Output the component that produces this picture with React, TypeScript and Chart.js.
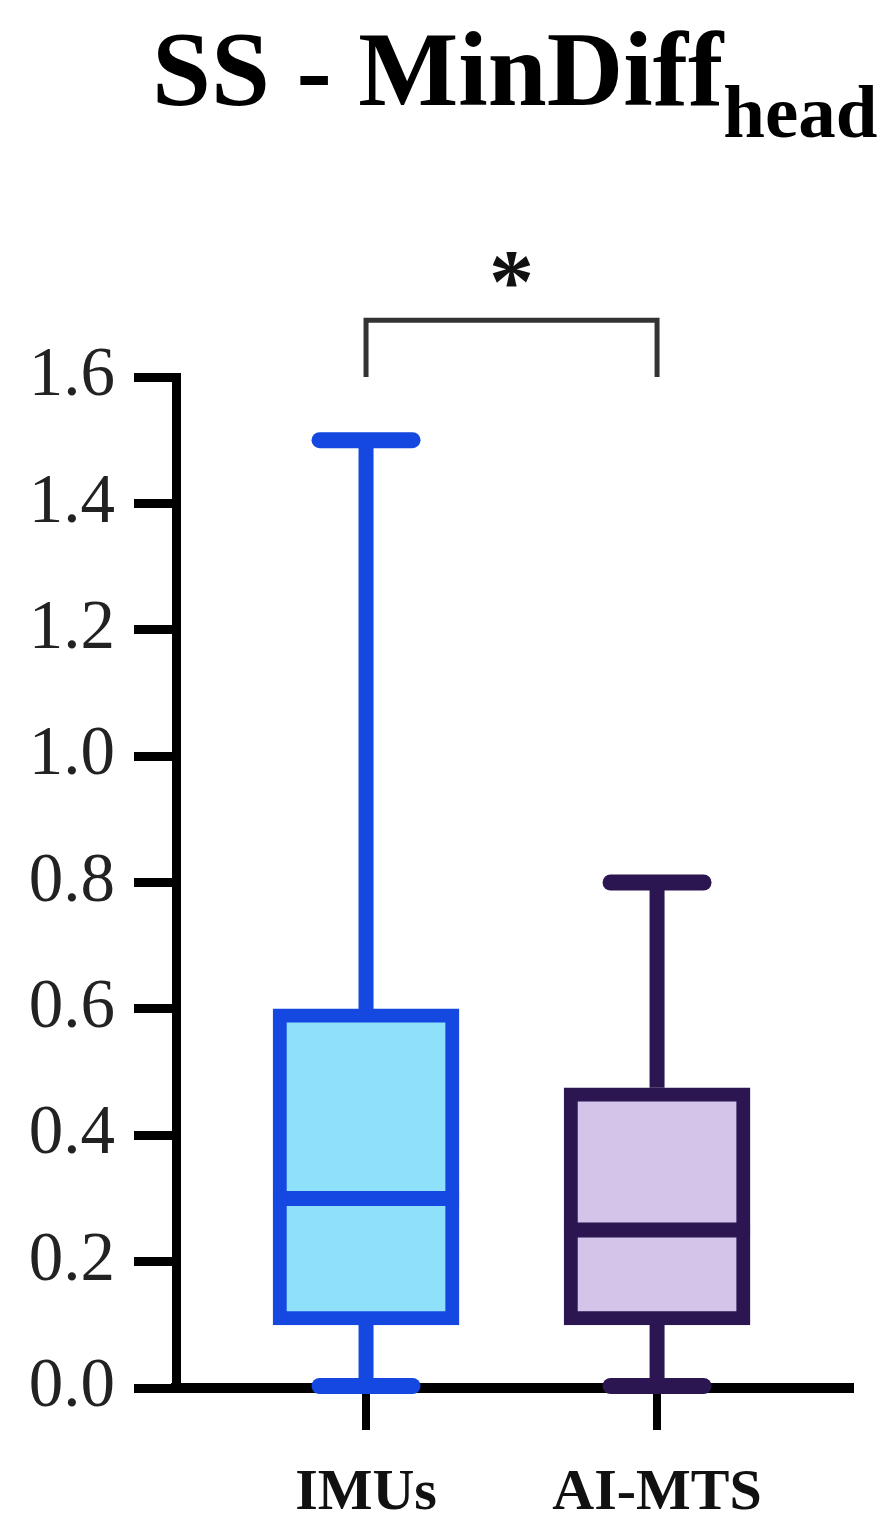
import React, { useEffect, useRef } from 'react';
import { Chart, registerables } from 'chart.js';

Chart.register(...registerables);

// ---- data ----
const CATEGORIES = ['IMUs', 'AI-MTS'];
const MIN_VALUES = [0, 0];
const Q1_VALUES = [0.1, 0.1];
const MEDIAN_VALUES = [0.3, 0.25];
const Q3_VALUES = [0.6, 0.475];
const MAX_VALUES = [1.5, 0.8];
const Y_TICKS = [0, 0.2, 0.4, 0.6, 0.8, 1.0, 1.2, 1.4, 1.6];
const SIGNIFICANCE_LABEL = '*';
const BRACKET_TOP_VALUE = 1.69;
const BRACKET_LEG_VALUE = 1.6;
const STAR_VALUE = 1.77;

// ---- styles ----
const FILL_COLORS = ['#8EE0FB', '#D3C4E9'];
const EDGE_COLORS = ['#1448E0', '#2B1652'];
const SERIF = "'Liberation Serif', 'Times New Roman', serif";

const boxPlugin = {
  id: 'boxWhiskers',
  afterDatasetsDraw(chart: any) {
    const { ctx } = chart;
    const y = chart.scales.y;
    const meta = chart.getDatasetMeta(0);
    meta.data.forEach((bar: any, i: number) => {
      const cx = bar.x;
      const half = bar.width / 2;
      const line = (x1: number, y1: number, x2: number, y2: number) => {
        ctx.beginPath();
        ctx.moveTo(x1, y1);
        ctx.lineTo(x2, y2);
        ctx.stroke();
      };
      ctx.save();
      ctx.strokeStyle = EDGE_COLORS[i];
      ctx.lineCap = 'butt';
      ctx.lineWidth = 15;
      const yMax = y.getPixelForValue(MAX_VALUES[i]);
      const yMin = y.getPixelForValue(MIN_VALUES[i]);
      const yQ1 = y.getPixelForValue(Q1_VALUES[i]);
      const yQ3 = y.getPixelForValue(Q3_VALUES[i]);
      const yMed = y.getPixelForValue(MEDIAN_VALUES[i]);
      line(cx, yQ3, cx, yMax);
      line(cx, yQ1, cx, yMin);
      line(cx - half, yMed, cx + half, yMed);
      ctx.lineCap = 'round';
      ctx.lineWidth = 16;
      const capHalf = half * 0.5;
      line(cx - capHalf, yMax, cx + capHalf, yMax);
      line(cx - capHalf, yMin - 2, cx + capHalf, yMin - 2);
      ctx.restore();
    });
  },
  afterDraw(chart: any) {
    const { ctx } = chart;
    const x = chart.scales.x;
    const y = chart.scales.y;
    const x1 = x.getPixelForValue(1);
    const x2 = x.getPixelForValue(2);
    const yTop = y.getPixelForValue(BRACKET_TOP_VALUE);
    const yLeg = y.getPixelForValue(BRACKET_LEG_VALUE);
    ctx.save();
    ctx.strokeStyle = '#333';
    ctx.lineWidth = 5;
    ctx.lineJoin = 'miter';
    ctx.beginPath();
    ctx.moveTo(x1, yLeg);
    ctx.lineTo(x1, yTop);
    ctx.lineTo(x2, yTop);
    ctx.lineTo(x2, yLeg);
    ctx.stroke();
    ctx.font = `bold 90px ${SERIF}`;
    ctx.fillStyle = '#111';
    ctx.textAlign = 'center';
    ctx.textBaseline = 'alphabetic';
    const m = ctx.measureText(SIGNIFICANCE_LABEL);
    const yStar = y.getPixelForValue(STAR_VALUE);
    const base = yStar + (m.actualBoundingBoxAscent - m.actualBoundingBoxDescent) / 2;
    ctx.fillText(SIGNIFICANCE_LABEL, (x1 + x2) / 2, base);
    ctx.restore();
  },
};

export default function App() {
  const canvasRef = useRef<HTMLCanvasElement | null>(null);

  useEffect(() => {
    const canvas = canvasRef.current;
    if (!canvas) return;
    const chart = new Chart(canvas, {
      type: 'bar',
      data: {
        datasets: [
          {
            data: CATEGORIES.map((_, i) => ({ x: i + 1, y: [Q1_VALUES[i], Q3_VALUES[i]] })) as any,
            backgroundColor: FILL_COLORS,
            borderColor: EDGE_COLORS,
            borderWidth: 14,
            borderSkipped: false,
            barThickness: 186,
          },
        ],
      },
      options: {
        responsive: false,
        animation: false,
        devicePixelRatio: 1,
        layout: { padding: { top: 377, right: 38, left: 0, bottom: 0 } },
        plugins: {
          legend: { display: false },
          tooltip: { enabled: false },
          title: { display: false },
        },
        scales: {
          x: {
            type: 'linear',
            min: 0.347,
            max: 2.663,
            offset: false,
            afterBuildTicks: (axis: any) => {
              axis.ticks = CATEGORIES.map((_, i) => ({ value: i + 1 }));
            },
            afterFit: (axis: any) => {
              axis.height = 134;
            },
            ticks: {
              autoSkip: false,
              maxRotation: 0,
              callback: (v: any) => CATEGORIES[Number(v) - 1] ?? '',
              font: { family: SERIF, size: 58, weight: 'bold' },
              color: '#111',
              padding: 29,
            },
            grid: { offset: false, drawOnChartArea: false, tickLength: 42, lineWidth: 8, color: '#000' },
            border: { display: true, width: 10, color: '#000' },
          },
          y: {
            min: 0,
            max: 1.6,
            afterBuildTicks: (axis: any) => {
              axis.ticks = Y_TICKS.map((v) => ({ value: v }));
            },
            afterFit: (axis: any) => {
              axis.width = 176;
            },
            ticks: {
              callback: (v: any) => Number(v).toFixed(1),
              font: { family: SERIF, size: 69 },
              color: '#222',
              padding: 19,
            },
            grid: { drawOnChartArea: false, tickLength: 42, lineWidth: 9, color: '#000' },
            border: { display: true, width: 9, color: '#000' },
          },
        },
      } as any,
      plugins: [boxPlugin],
    });
    return () => chart.destroy();
  }, []);

  return (
    <div style={{ position: 'fixed', left: 0, top: 0, width: 888, height: 1522, background: '#fff' }}>
      <div
        style={{
          position: 'absolute',
          left: 152,
          top: 17,
          fontFamily: SERIF,
          fontWeight: 'bold',
          fontSize: 106,
          lineHeight: '106px',
          color: '#000',
          whiteSpace: 'nowrap',
        }}
      >
        SS - MinDiff
        <span style={{ fontSize: 75, lineHeight: 1, verticalAlign: '-32px' }}>head</span>
      </div>
      <canvas ref={canvasRef} width={888} height={1522} style={{ position: 'absolute', left: 0, top: 0, display: 'block' }} />
    </div>
  );
}
